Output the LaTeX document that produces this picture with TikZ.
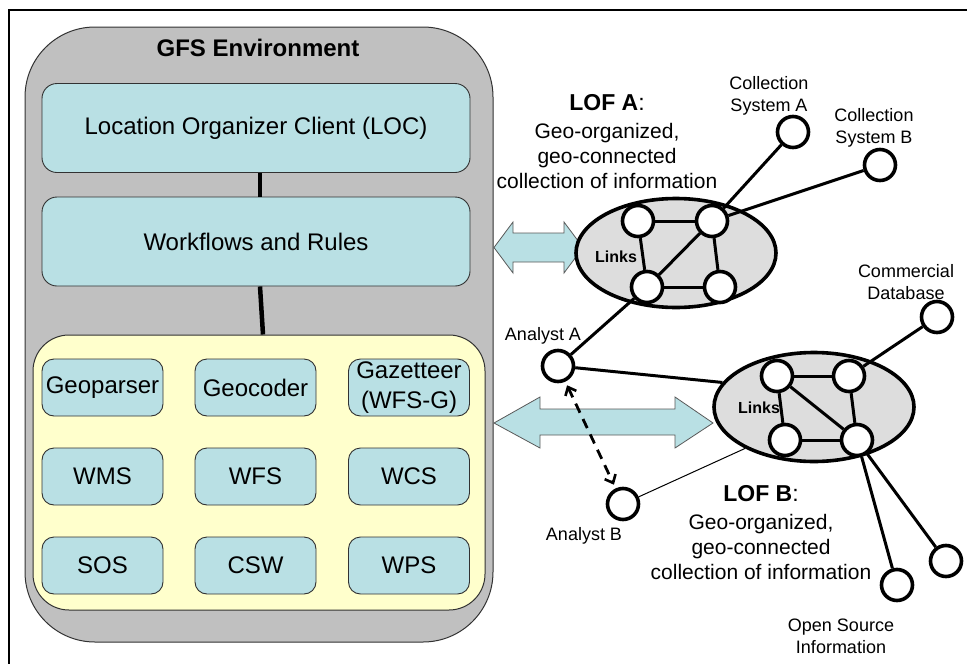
\documentclass[tikz,border=0pt]{standalone}
\usepackage{fontspec}
\setmainfont{Liberation Sans}
\usetikzlibrary{arrows.meta,shapes.geometric}
\definecolor{tealc}{RGB}{185,224,228}
\definecolor{grayc}{RGB}{192,192,192}
\definecolor{yellowc}{RGB}{255,255,204}
\definecolor{ellc}{RGB}{221,221,221}
\definecolor{edgec}{RGB}{50,50,50}
\tikzset{
  bigbox/.style={draw=edgec, fill=tealc, line width=0.9pt, rounded corners=15pt,
    minimum width=428pt, minimum height=89pt, inner sep=0pt, font=\fontsize{24}{28}\selectfont},
  sbox/.style={draw=edgec, fill=tealc, line width=0.9pt, rounded corners=12pt,
    minimum width=121pt, minimum height=57pt, inner sep=0pt, align=center,
    font=\fontsize{24}{30}\selectfont},
  circ/.style={circle, draw=black, fill=white, line width=3.6pt, minimum size=31pt, inner sep=0pt},
  lof/.style={ellipse, draw=black, fill=ellc, line width=3.6pt, minimum width=200pt,
    minimum height=109pt, inner sep=0pt},
  link/.style={line width=3pt},
  conn/.style={line width=3pt},
  darrow/.style={draw=black!65, fill=tealc, line width=0.8pt, line join=miter},
  lbl/.style={align=center, font=\fontsize{18}{22}\selectfont, inner sep=0pt},
  loftext/.style={align=center, font=\fontsize{21}{25}\selectfont, inner sep=0pt},
  linkstext/.style={font=\bfseries\fontsize{16}{18}\selectfont, inner sep=0pt},
  barb/.tip={Straight Barb[length=7pt,width=12pt,line width=2.6pt]}
}
\begin{document}
\begin{tikzpicture}[x=1pt,y=-1pt]
\useasboundingbox (0,0) rectangle (967,664);
% outer frame (only top and left visible)
\draw[line width=2.5pt] (967,10) -- (9,10) -- (9,664);

% GFS environment
\node[draw=edgec, fill=grayc, line width=1pt, rounded corners=70pt,
  minimum width=468pt, minimum height=615pt, inner sep=0pt] (gfs) at (259,334.5) {};
\node[font=\bfseries\fontsize{24}{28}\selectfont] (title) at (258,48) {GFS Environment};
\node[bigbox] (loc) at (256,128) {Location Organizer Client (LOC)};
\node[bigbox] (wf) at (256,241.5) {Workflows and Rules};
\node[draw=edgec, fill=yellowc, line width=1pt, rounded corners=36pt,
  minimum width=452pt, minimum height=275pt, inner sep=0pt] (svc) at (259,472.5) {};
\draw[line width=4.5pt] ([xshift=4pt]loc.south) -- ([xshift=4pt]wf.north);
\draw[line width=4.5pt] ([xshift=4pt]wf.south) -- ([xshift=4pt]svc.north);

\node[sbox] (geop) at (102.5,387.5) {Geoparser};
\node[sbox] (geoc) at (255.5,387.5) {Geocoder};
\node[sbox] (gaz)  at (409,387.5) {Gazetteer\\(WFS-G)};
\node[sbox] (wms)  at (102.5,476.5) {WMS};
\node[sbox] (wfs)  at (255.5,476.5) {WFS};
\node[sbox] (wcs)  at (409,476.5) {WCS};
\node[sbox] (sos)  at (102.5,565.5) {SOS};
\node[sbox] (csw)  at (255.5,565.5) {CSW};
\node[sbox] (wps)  at (409,565.5) {WPS};

% double arrows
\draw[darrow] (494,247.5) -- (513,222) -- (513,233) -- (564,233) -- (564,222) -- (583,247.5)
  -- (564,273) -- (564,262) -- (513,262) -- (513,273) -- cycle;
\draw[darrow] (494,423) -- (540,397) -- (540,409) -- (675,409) -- (675,397) -- (713,423)
  -- (675,448) -- (675,435) -- (540,435) -- (540,448) -- cycle;

% LOF ellipses
\node[lof] (ella) at (676,253) {};
\node[lof] (ellb) at (814,407) {};
\node[linkstext] (linksa) at (616,257) {Links};
\node[linkstext] (linksb) at (759,408) {Links};

\node[circ] (atl) at (638,221) {};
\node[circ] (atr) at (712,221) {};
\node[circ] (abl) at (647,287) {};
\node[circ] (abr) at (720,287) {};
\node[circ] (btl) at (777,376) {};
\node[circ] (btr) at (849,376) {};
\node[circ] (bbl) at (785,440) {};
\node[circ] (bbr) at (857,440) {};

\node[circ] (csa) at (793,132) {};
\node[circ] (csb) at (880,165) {};
\node[circ] (com) at (937,317) {};
\node[circ] (ana) at (558,366) {};
\node[circ] (anb) at (623,504) {};
\node[circ] (os1) at (897,585) {};
\node[circ] (os2) at (946,561) {};

\draw[link] (atl) -- (atr);
\draw[link] (atl) -- (abl);
\draw[link] (atr) -- (abr);
\draw[link] (abl) -- (abr);
\draw[link] (abl) -- (atr);
\draw[link] (btl) -- (btr);
\draw[link] (btl) -- (bbl);
\draw[link] (btr) -- (bbr);
\draw[link] (bbl) -- (bbr);
\draw[link] (btl) -- (bbr);

\draw[conn] (atr) -- (csa);
\draw[conn] (atr) -- (csb);
\draw[conn] (abl) -- (ana);
\draw[conn] (ana) -- (ellb.165);
\draw[line width=1pt] (anb) -- (ellb.211);
\draw[conn] (btr) -- (com);
\draw[conn] (bbr) -- (os1);
\draw[conn] (bbr) -- (os2);
\draw[line width=2.8pt, dash pattern=on 10pt off 7pt, {barb}-{barb}, shorten <=4pt, shorten >=4pt] (ana) -- (anb);

% labels
\node[loftext] (lofa) at (607,142) {{\fontsize{23}{25}\selectfont\textbf{LOF A}:}\\[3pt]Geo-organized,\\geo-connected\\collection of information};
\node[loftext] (lofb) at (761,533) {{\fontsize{23}{25}\selectfont\textbf{LOF B}:}\\[3pt]Geo-organized,\\geo-connected\\collection of information};
\node[lbl] (csal) at (769,96) {Collection\\System A};
\node[lbl] (csbl) at (874,128) {Collection\\System B};
\node[lbl] (coml) at (906,282) {Commercial\\Database};
\node[lbl] (anal) at (543,336) {Analyst A};
\node[lbl] (anbl) at (584,536) {Analyst B};
\node[lbl] (osl) at (841,636) {Open Source\\Information};
\end{tikzpicture}
\end{document}
